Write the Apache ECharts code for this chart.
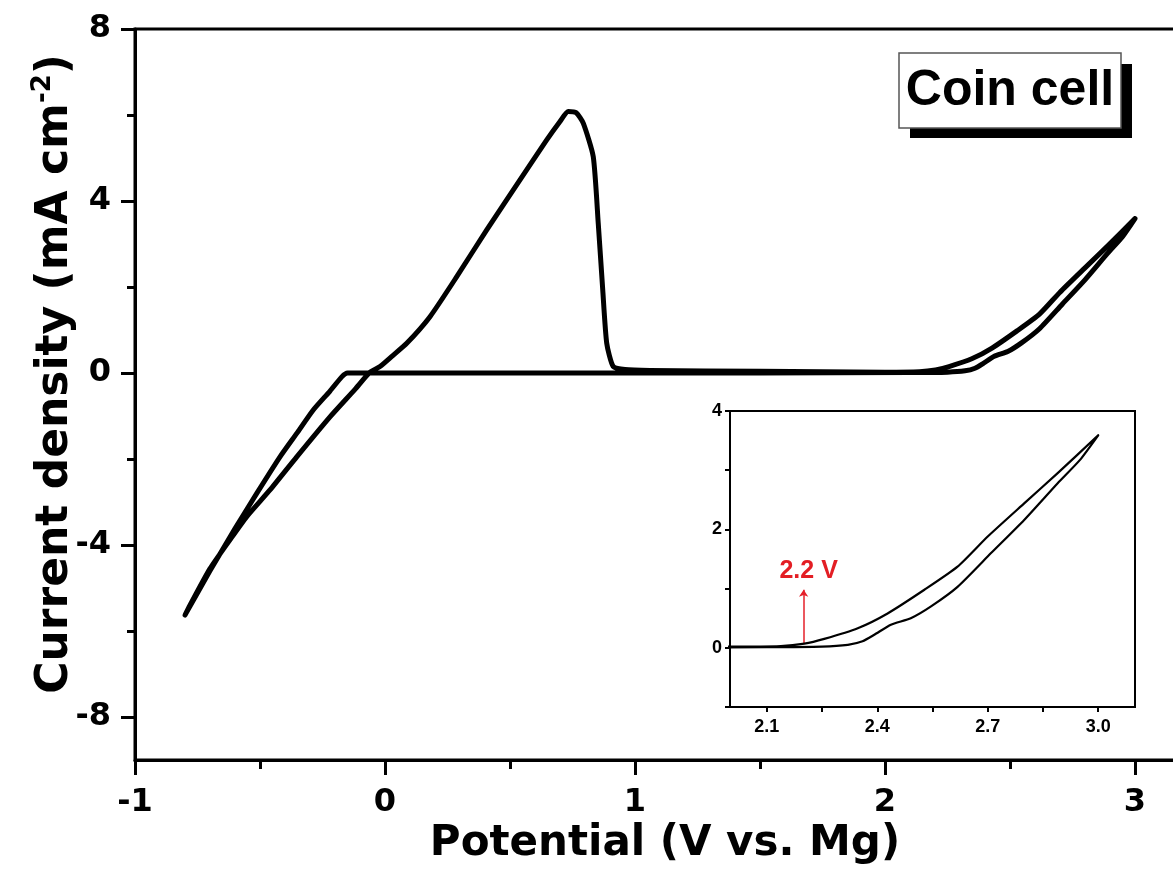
<!DOCTYPE html>
<html>
<head>
<meta charset="utf-8">
<script src="https://cdn.jsdelivr.net/npm/echarts@6/dist/echarts.min.js"></script>
<style>
html,body{margin:0;padding:0;background:#fff;}
#c{width:1173px;height:873px;}
</style>
</head>
<body>
<div id="c"></div>
<script>
// Cyclic voltammogram (one closed loop)
const potential = [
  3.000, 2.950, 2.890, 2.799, 2.709, 2.618, 2.546, 2.491, 2.437, 2.392, 2.360, 2.320, 2.250, 2.100, 1.500, 0.500, -0.100, -0.150,
  -0.173, -0.220, -0.287, -0.350, -0.420, -0.513, -0.600, -0.700, -0.800,
  -0.780, -0.700, -0.620, -0.553, -0.460, -0.353, -0.220, -0.120, -0.060, -0.020, 0.030, 0.087, 0.180, 0.287, 0.407, 0.540, 0.647,
  0.700, 0.733, 0.765, 0.793, 0.833, 0.853, 0.871, 0.887, 0.913, 0.960, 1.060, 1.500, 2.000,
  2.138, 2.202, 2.256, 2.347, 2.428, 2.528, 2.618, 2.700, 2.799, 2.890, 3.000
];
const current = [
  3.59, 3.17, 2.78, 2.16, 1.60, 1.03, 0.70, 0.50, 0.39, 0.22, 0.11, 0.05, 0.02, 0.01, 0.00, 0.00, 0.00, 0.00,
  -0.09, -0.42, -0.86, -1.38, -1.95, -2.80, -3.62, -4.60, -5.63,
  -5.40, -4.55, -3.88, -3.34, -2.72, -1.95, -1.02, -0.38, 0.02, 0.15, 0.40, 0.69, 1.31, 2.24, 3.33, 4.49, 5.42,
  5.85, 6.08, 6.05, 5.81, 5.03, 3.48, 1.93, 0.69, 0.15, 0.08, 0.06, 0.04, 0.02,
  0.03, 0.07, 0.15, 0.33, 0.58, 0.98, 1.37, 1.88, 2.44, 2.95, 3.59
];

// main axes ticks
const mainYLabels = [-8, -4, 0, 4, 8];
const mainYMinor = [-6, -2, 2, 6];
// inset axes ticks
const insetXLabels = [2.1, 2.4, 2.7, 3.0];
const insetXTicks = [2.1, 2.25, 2.4, 2.55, 2.7, 2.85, 3.0];
// onset annotation
const onsetPotential = 2.2;
const arrowFrom = 0.08;
const arrowTo = 0.98;
const onsetText = '2.2 V';

const xTitle = 'Potential (V vs. Mg)';
const yTitle = 'Current density (mA cm';
const boxText = 'Coin cell';

const pts = potential.map((v, i) => [v, current[i]]);

const chart = echarts.init(document.getElementById('c'), null, {renderer: 'canvas'});
const bigFont = 'DejaVu Sans';
const arial = 'Liberation Sans, Arial';

chart.setOption({
  animation: false,
  backgroundColor: '#fff',
  grid: [
    {left: 135, top: 29, width: 1050, height: 731, outerBoundsMode: 'none', containLabel: false,
      show: true, borderColor: '#000', borderWidth: 3, backgroundColor: 'transparent'},
    {left: 730, top: 411, width: 405, height: 296, outerBoundsMode: 'none', containLabel: false,
      show: true, borderColor: '#000', borderWidth: 2, backgroundColor: '#fff', z: 5}
  ],
  xAxis: [
    {
      gridIndex: 0, type: 'value', min: -1, max: 3.2, interval: 1,
      axisLine: {onZero: false, lineStyle: {color: '#000', width: 3}},
      axisTick: {length: 15, lineStyle: {color: '#000', width: 3}},
      minorTick: {show: true, splitNumber: 2, length: 9, lineStyle: {color: '#000', width: 3}},
      splitLine: {show: false}, minorSplitLine: {show: false},
      axisLabel: {color: '#000', fontSize: 32, fontWeight: 'bold', fontFamily: bigFont, margin: 27,
        formatter: v => (v > 3.05 ? '' : String(v))}
    },
    {
      gridIndex: 1, type: 'value', min: 2.0, max: 3.1,
      axisLine: {onZero: false, lineStyle: {color: '#000', width: 2}},
      axisTick: {customValues: insetXTicks, length: 5, lineStyle: {color: '#000', width: 2}},
      splitLine: {show: false},
      axisLabel: {customValues: insetXLabels, color: '#000', fontSize: 18, fontWeight: 'bold', fontFamily: arial, margin: 11,
        formatter: v => Number(v).toFixed(1)}
    }
  ],
  yAxis: [
    {
      gridIndex: 0, type: 'value', min: -9, max: 8, position: 'left',
      axisLine: {onZero: false, lineStyle: {color: '#000', width: 3}},
      axisTick: {customValues: mainYLabels, length: 14, lineStyle: {color: '#000', width: 3}},
      splitLine: {show: false},
      axisLabel: {customValues: mainYLabels, color: '#000', fontSize: 32, fontWeight: 'bold', fontFamily: bigFont, margin: 24}
    },
    {
      gridIndex: 0, type: 'value', min: -9, max: 8, position: 'left', offset: 0,
      axisLine: {show: false, onZero: false},
      axisTick: {customValues: mainYMinor, length: 8, lineStyle: {color: '#000', width: 3}},
      splitLine: {show: false},
      axisLabel: {show: false}
    },
    {
      gridIndex: 1, type: 'value', min: -1, max: 4, interval: 1,
      axisLine: {onZero: false, lineStyle: {color: '#000', width: 2}},
      axisTick: {length: 5, lineStyle: {color: '#000', width: 2}},
      splitLine: {show: false},
      axisLabel: {color: '#000', fontSize: 18, fontWeight: 'bold', fontFamily: arial, margin: 8,
        formatter: v => (v >= 0 && v % 2 === 0 ? String(v) : '')}
    }
  ],
  series: [
    {
      type: 'line', xAxisIndex: 0, yAxisIndex: 0, data: pts, showSymbol: false, symbol: 'none', smooth: 0.2,
      lineStyle: {color: '#000', width: 5, join: 'round', cap: 'round'}, z: 3, silent: true
    },
    {
      type: 'line', xAxisIndex: 1, yAxisIndex: 2, data: pts, showSymbol: false, symbol: 'none', smooth: 0.2,
      lineStyle: {color: '#000', width: 2.2, join: 'round', cap: 'round'}, z: 6, silent: true,
      markLine: {
        silent: true, animation: false,
        symbol: ['none', 'arrow'], symbolSize: 7,
        lineStyle: {color: '#e5202a', width: 1.5, type: 'solid'},
        label: {show: true, position: 'end', formatter: onsetText, color: '#e31e24', fontSize: 25, fontWeight: 'bold',
          fontFamily: arial, distance: 6, offset: [5, 0]},
        data: [[{coord: [onsetPotential, arrowFrom]}, {coord: [onsetPotential, arrowTo]}]]
      }
    }
  ],
  graphic: [
    {
      type: 'text', x: 56, y: 374, rotation: Math.PI / 2,
      style: {
        text: '{a|' + yTitle + '}{s|-2}{a|)}',
        align: 'center', verticalAlign: 'middle',
        rich: {
          a: {fontSize: 44, fontWeight: 'bold', fontFamily: bigFont, fill: '#000', lineHeight: 52},
          s: {fontSize: 26, fontWeight: 'bold', fontFamily: bigFont, fill: '#000', verticalAlign: 'top', lineHeight: 52, padding: [0, 0, 22, 0]}
        }
      }
    },
    {
      type: 'text', x: 665, y: 844,
      style: {text: xTitle, fontSize: 42, fontWeight: 'bold', fontFamily: bigFont, fill: '#000', align: 'center', verticalAlign: 'middle'}
    },
    {
      type: 'rect', shape: {x: 910, y: 64, width: 222, height: 74}, style: {fill: '#000'}, z: 10
    },
    {
      type: 'rect', shape: {x: 899, y: 53, width: 222, height: 75}, style: {fill: '#fff', stroke: '#555', lineWidth: 1.5}, z: 11
    },
    {
      type: 'text', x: 1010, y: 91, z: 12,
      style: {text: boxText, fontSize: 50, fontWeight: 'bold', fontFamily: arial, fill: '#000', align: 'center', verticalAlign: 'middle'}
    }
  ]
});
</script>
</body>
</html>
